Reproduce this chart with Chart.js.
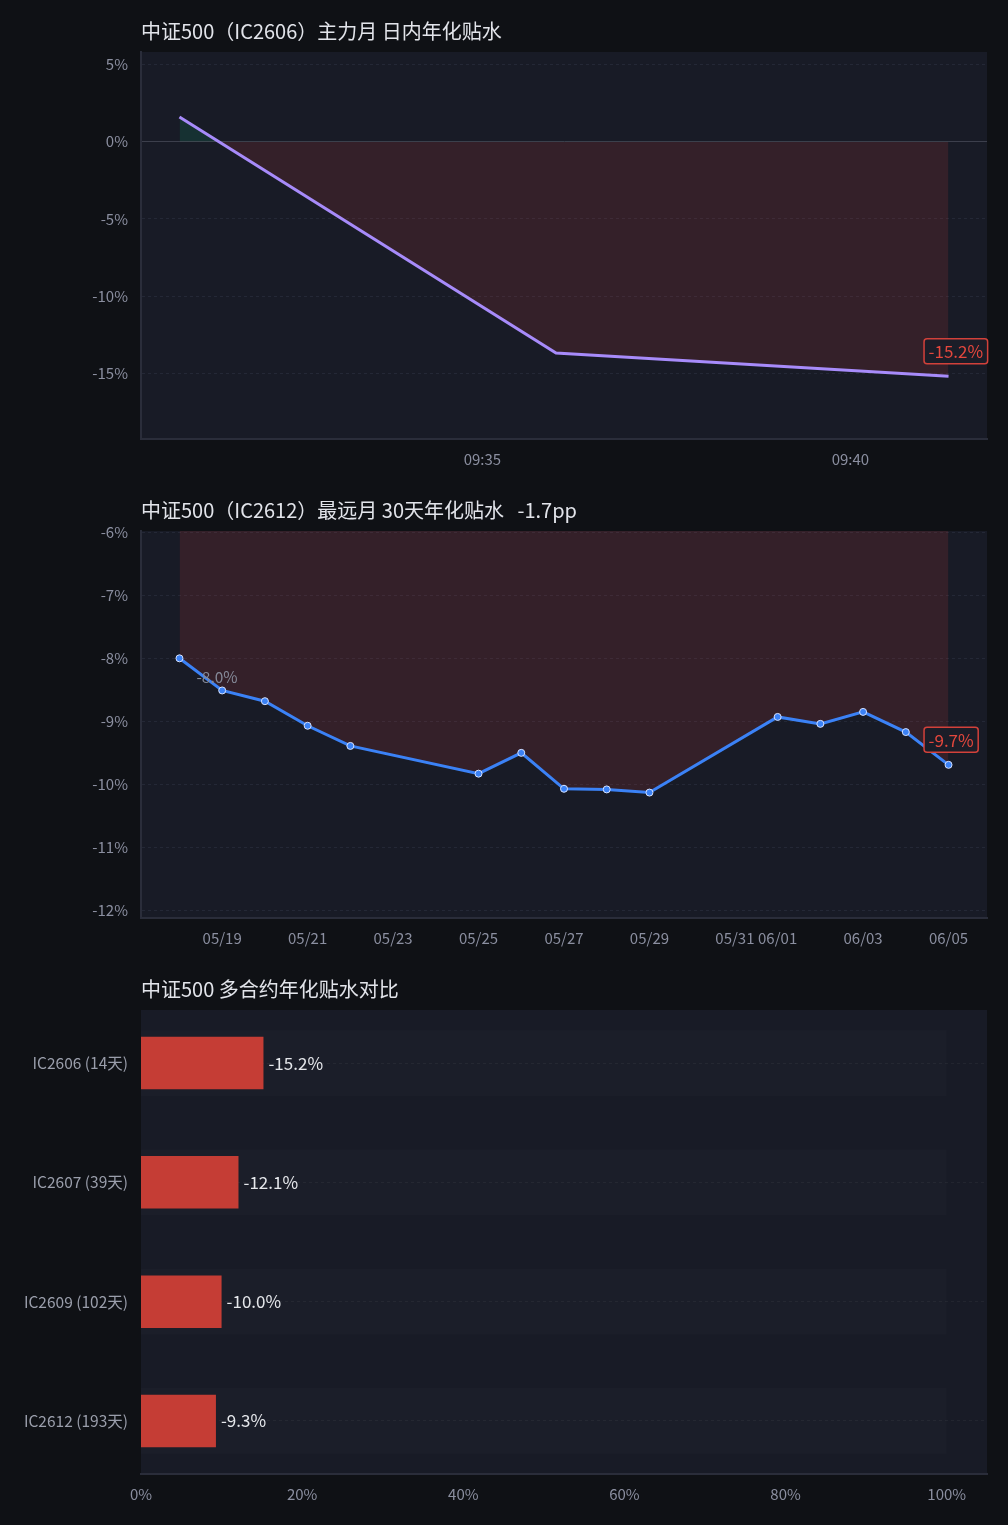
<!DOCTYPE html>
<html>
<head>
<meta charset="utf-8">
<script src="https://cdn.jsdelivr.net/npm/chart.js@4.4.1/dist/chart.umd.min.js"></script>
<style>
  body { margin: 0; background: #0f1115; width: 1008px; }
  .box { position: relative; width: 1008px; }
</style>
</head>
<body>
<div class="box" style="height:479px"><canvas id="intraday"></canvas></div>
<div class="box" style="height:479px"><canvas id="daily"></canvas></div>
<div class="box" style="height:567px"><canvas id="compare"></canvas></div>
<script>
// IC2606 intraday annualised discount (%)
const intradayTimes = ["09:30:53", "09:36:00", "09:41:20"];
const intradayValues = [1.6, -13.7, -15.2];
const intradayTicks = ["09:35", "09:40"];

// IC2612 far month, last 30 days (%)
const dailyDates = ["05/18", "05/19", "05/20", "05/21", "05/22", "05/25", "05/26", "05/27",
                    "05/28", "05/29", "06/01", "06/02", "06/03", "06/04", "06/05"];
const dailyValues = [-8.00, -8.51, -8.68, -9.07, -9.39, -9.83, -9.50, -10.07,
                     -10.08, -10.13, -8.93, -9.04, -8.85, -9.17, -9.69];
const dailyTicks = ["05/19", "05/21", "05/23", "05/25", "05/27", "05/29", "05/31", "06/01", "06/03", "06/05"];

// contract comparison
const contracts = ["IC2606 (14天)", "IC2607 (39天)", "IC2609 (102天)", "IC2612 (193天)"];
const contractValues = [-15.2, -12.1, -10.0, -9.3];
const percentTicks = [0, 20, 40, 60, 80, 100];

const FONT = '"Noto Sans CJK SC", "Noto Sans", sans-serif';
const TICK_COLOR = '#8b8fa0';
const GRID_COLOR = '#242836';
const AXIS_COLOR = '#2a2d3a';

Chart.defaults.font.family = FONT;
Chart.defaults.animation = false;

const toMinutes = (t) => {
  const [h, m, s] = t.split(':').map(Number);
  return h * 60 + m + (s || 0) / 60;
};
const YEAR = 2026;
const dayZero = Date.UTC(YEAR, 4, 18);
const toDay = (d) => {
  const [mo, da] = d.split('/').map(Number);
  return (Date.UTC(YEAR, mo - 1, da) - dayZero) / 86400000;
};

// dark plot area
const plotBg = {
  id: 'plotBg',
  beforeDraw(chart) {
    const { ctx, chartArea: a } = chart;
    ctx.save();
    ctx.fillStyle = '#181b26';
    ctx.fillRect(a.left, a.top, a.right - a.left, a.bottom - a.top);
    ctx.restore();
  }
};

// value tags on first / last point
const tags = {
  id: 'tags',
  afterDatasetsDraw(chart, args, opts) {
    const meta = chart.getDatasetMeta(0);
    const vals = chart.data.datasets[0].data;
    const ctx = chart.ctx;
    ctx.save();
    if (opts.first) {
      const p = meta.data[0];
      ctx.font = '15.5px ' + FONT;
      ctx.fillStyle = '#858a99';
      ctx.textBaseline = 'middle';
      ctx.fillText(vals[0].y.toFixed(1) + '%', p.x + 17, p.y + 19);
    }
    if (opts.last) {
      const n = meta.data.length - 1;
      const p = meta.data[n];
      const txt = vals[n].y.toFixed(1) + '%';
      ctx.font = '17px ' + FONT;
      const w = ctx.measureText(txt).width + 9;
      const x = p.x - 24.5, y = p.y - 37.5;
      ctx.fillStyle = '#1b1d28';
      ctx.strokeStyle = '#d2413a';
      ctx.lineWidth = 1.5;
      ctx.beginPath();
      ctx.roundRect(x, y, w, 25, 3);
      ctx.fill();
      ctx.stroke();
      ctx.fillStyle = '#e4473d';
      ctx.textBaseline = 'middle';
      ctx.fillText(txt, x + 4.5, y + 13);
    }
    ctx.restore();
  }
};

// value labels at bar ends
const barLabels = {
  id: 'barLabels',
  afterDatasetsDraw(chart) {
    const meta = chart.getDatasetMeta(0);
    const ctx = chart.ctx;
    ctx.save();
    ctx.font = '17px ' + FONT;
    ctx.fillStyle = '#e5e7eb';
    ctx.textBaseline = 'middle';
    meta.data.forEach((bar, i) => {
      ctx.fillText(contractValues[i].toFixed(1) + '%', bar.x + 5, bar.y);
    });
    ctx.restore();
  }
};

function titleOpts(text) {
  return {
    display: true, text: text, align: 'start', fullSize: false,
    color: '#e2e4ea', font: { size: 20, weight: 'normal' },
    padding: { top: 19, bottom: 9 }
  };
}

function yAxis(min, max, step) {
  return {
    min: min, max: max,
    afterFit: (s) => { s.width = 141; },
    ticks: { stepSize: step, includeBounds: false, color: TICK_COLOR, padding: 13,
             font: { size: 15 }, callback: (v) => v + '%' },
    grid: { drawTicks: false,
            color: (c) => (c.tick && c.tick.value === 0) ? '#3c3f4c' : GRID_COLOR },
    border: { color: AXIS_COLOR, width: 2,
              dash: (c) => (c.tick && c.tick.value === 0) ? [] : [3, 3] }
  };
}

function xAxis(xs, tickLabels, toX) {
  const lo = Math.min(...xs), hi = Math.max(...xs), pad = (hi - lo) * 0.05;
  return {
    type: 'linear', min: lo - pad, max: hi + pad,
    afterBuildTicks: (s) => { s.ticks = tickLabels.map((t) => ({ value: toX(t) })); },
    ticks: { color: TICK_COLOR, padding: 11, font: { size: 15 }, maxRotation: 0,
             autoSkip: false, callback: (v, i) => tickLabels[i] },
    grid: { display: false, drawTicks: false },
    border: { color: AXIS_COLOR, width: 2 }
  };
}

const layout = { padding: { left: 0, right: 21, top: 0, bottom: 0 } };
const FILL = { target: 'origin', above: 'rgba(16,185,129,0.14)', below: 'rgba(230,62,62,0.14)' };

// chart 1
const intradayX = intradayTimes.map(toMinutes);
new Chart(document.getElementById('intraday'), {
  type: 'line',
  data: {
    datasets: [{
      data: intradayX.map((x, i) => ({ x: x, y: intradayValues[i] })),
      borderColor: '#a78bfa', borderWidth: 3, pointRadius: 0, fill: FILL
    }]
  },
  options: {
    responsive: true, maintainAspectRatio: false, layout: layout,
    plugins: { legend: { display: false }, tooltip: { enabled: false },
               title: titleOpts('中证500（IC2606）主力月 日内年化贴水'),
               tags: { last: true } },
    scales: {
      x: xAxis(intradayX, intradayTicks, toMinutes),
      y: yAxis(-19.27, 5.82, 5)
    }
  },
  plugins: [plotBg, tags]
});

// chart 2
const dailyX = dailyDates.map(toDay);
new Chart(document.getElementById('daily'), {
  type: 'line',
  data: {
    datasets: [{
      data: dailyX.map((x, i) => ({ x: x, y: dailyValues[i] })),
      borderColor: '#3b82f6', borderWidth: 3,
      pointRadius: 3.5, pointBackgroundColor: '#3b82f6',
      pointBorderColor: '#d6e2ff', pointBorderWidth: 1, fill: FILL
    }]
  },
  options: {
    responsive: true, maintainAspectRatio: false, layout: layout,
    plugins: { legend: { display: false }, tooltip: { enabled: false },
               title: titleOpts('中证500（IC2612）最远月 30天年化贴水   -1.7pp'),
               tags: { first: true, last: true } },
    scales: {
      x: xAxis(dailyX, dailyTicks, toDay),
      y: yAxis(-12.12, -5.98, 1)
    }
  },
  plugins: [plotBg, tags]
});

// chart 3
new Chart(document.getElementById('compare'), {
  type: 'bar',
  data: {
    datasets: [
      {
        data: contractValues.map((v, i) => ({ x: Math.abs(v), y: i })),
        backgroundColor: '#c53d35', barPercentage: 0.44, categoryPercentage: 1, grouped: false
      },
      {
        data: contracts.map((c, i) => ({ x: 100, y: i })),
        backgroundColor: 'rgba(255,255,255,0.015)', barPercentage: 0.55, categoryPercentage: 1, grouped: false
      }
    ]
  },
  options: {
    indexAxis: 'y',
    responsive: true, maintainAspectRatio: false,
    layout: { padding: { left: 0, right: 21, top: 0, bottom: 11 } },
    plugins: { legend: { display: false }, tooltip: { enabled: false },
               title: titleOpts('中证500 多合约年化贴水对比') },
    scales: {
      x: {
        type: 'linear', min: 0, max: 105,
        afterBuildTicks: (s) => { s.ticks = percentTicks.map((v) => ({ value: v })); },
        ticks: { color: TICK_COLOR, padding: 11, font: { size: 15 }, callback: (v) => v + '%' },
        grid: { display: false, drawTicks: false },
        border: { color: AXIS_COLOR, width: 2 }
      },
      y: {
        type: 'linear', reverse: true, offset: false,
        min: -0.445, max: contracts.length - 1 + 0.445,
        afterFit: (s) => { s.width = 141; },
        afterBuildTicks: (s) => { s.ticks = contracts.map((c, i) => ({ value: i })); },
        ticks: { color: '#9a9eab', padding: 13, font: { size: 15.5 }, callback: (v) => contracts[v] },
        grid: { drawTicks: false, offset: false, color: '#22252f' },
        border: { display: false, dash: [3, 3] }
      }
    }
  },
  plugins: [plotBg, barLabels]
});
</script>
</body>
</html>
